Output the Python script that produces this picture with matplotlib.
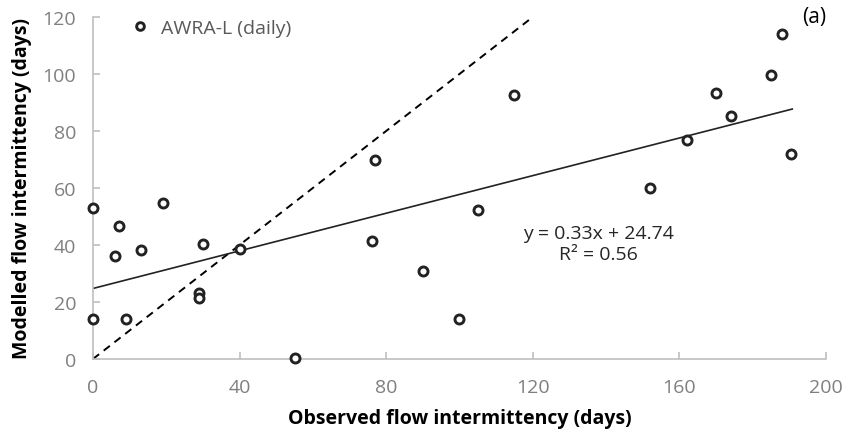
import numpy as np
import matplotlib.pyplot as plt

# --- Data ---
observed = [0, 0, 6, 7, 9, 13, 19, 30, 29, 29, 40, 55, 77, 76, 90,
            100, 105, 115, 152, 162, 170, 174, 185, 188, 190.5]
modelled = [14, 53, 36, 46.6, 14, 38.3, 54.8, 40.5, 23.3, 21.5, 38.7, 0.3, 69.8, 41.5, 31,
            14.2, 52.3, 92.5, 60, 76.8, 93.2, 85.3, 99.8, 113.9, 72]
slope, intercept = 0.33, 24.74
fit_x = [0, 190.8]
one_x = [0, 120]

xticks = [0, 40, 80, 120, 160, 200]
yticks = [0, 20, 40, 60, 80, 100, 120]

plt.rcParams['font.family'] = ['Open Sans', 'DejaVu Sans']

fig = plt.figure(figsize=(8.45, 4.39), dpi=100)
ax = fig.add_axes([0.110, 0.180, 0.8675, 0.779])

# 1:1 line and trend line
ax.plot(one_x, one_x, color='black', linestyle=(0, (4, 3)), linewidth=1.4)
ax.plot(fit_x, [slope * v + intercept for v in fit_x], color='#222222', linewidth=1.2)

ax.plot(observed, modelled, linestyle='none', marker='o', markersize=6.5,
        markerfacecolor='white', markeredgecolor='#222222', markeredgewidth=2.1,
        label='AWRA-L (daily)', clip_on=False, zorder=5)

ax.set_xlim(0, 200)
ax.set_ylim(0, 120)
ax.set_xticks(xticks)
ax.set_yticks(yticks)

for s in ['top', 'right']:
    ax.spines[s].set_visible(False)
for s in ['left', 'bottom']:
    ax.spines[s].set_color('#bfbfbf')
    ax.spines[s].set_linewidth(1.2)
ax.tick_params(axis='both', colors='#bfbfbf', labelcolor='#7f7f7f', labelsize=14,
               direction='in', length=5, width=1.2)
ax.tick_params(axis='x', pad=14)
ax.tick_params(axis='y', pad=12)

ax.set_xlabel('Observed flow intermittency (days)', fontsize=14, fontweight='bold', labelpad=8)
ax.set_ylabel('Modelled flow intermittency (days)', fontsize=14, fontweight='bold', labelpad=8)

leg = ax.legend(loc='upper left', bbox_to_anchor=(0.014, 1.045), frameon=False,
                handletextpad=0.05, fontsize=14, markerscale=0.85)
for t in leg.get_texts():
    t.set_color('#595959')

ax.text(1.0, 1.0, '(a)', transform=ax.transAxes, fontsize=15, ha='right', va='center')
ax.text(138, 40.4, 'y = 0.33x + 24.74\nR² = 0.56', fontsize=14, ha='center', va='center',
        linespacing=1.2, color='#262626')

fig.savefig('out.png', dpi=100)
